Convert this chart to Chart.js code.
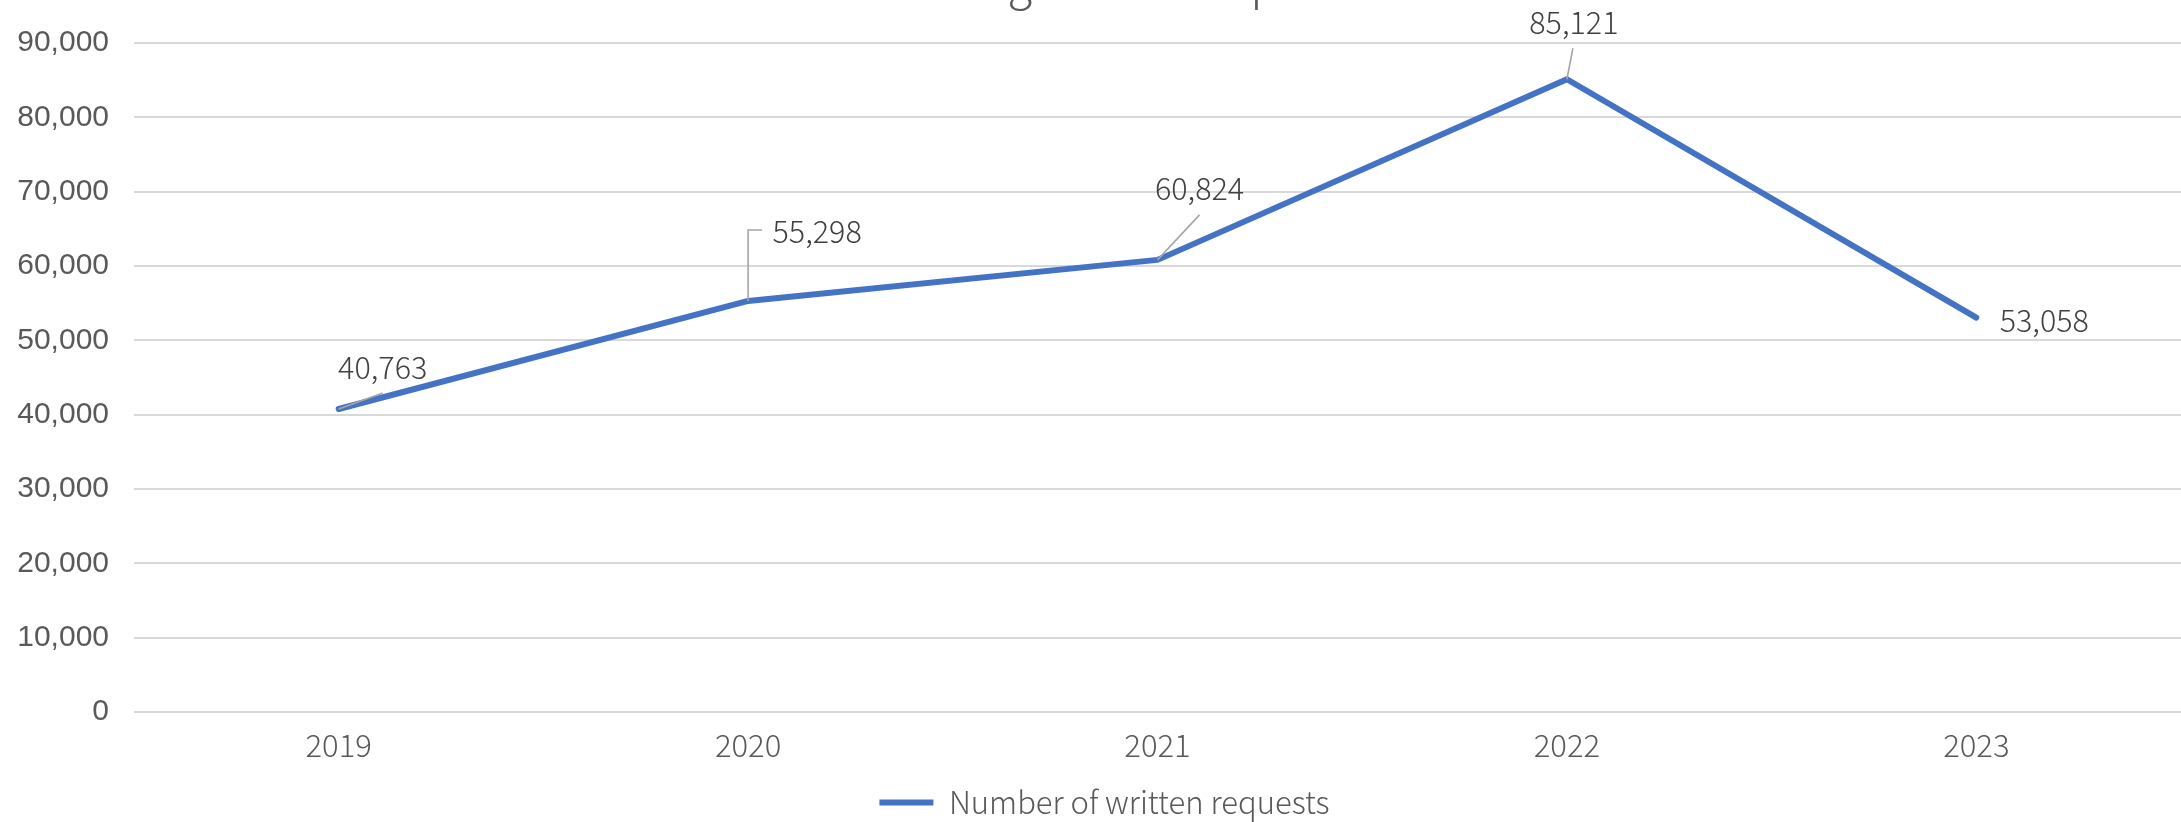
<!DOCTYPE html>
<html><head><meta charset="utf-8">
<script src="https://cdn.jsdelivr.net/npm/chart.js@4/dist/chart.umd.min.js"></script>
<style>html,body{margin:0;padding:0;background:#fff;overflow:hidden}#wrap{width:2181px;height:822px}</style>
</head><body><div id="wrap"><canvas id="c" width="2181" height="822"></canvas></div>
<script>
// ---- data ----
const categories = ['2019', '2020', '2021', '2022', '2023'];
const writtenRequests = [40763, 55298, 60824, 85121, 53058];
const yTickValues = [0, 10000, 20000, 30000, 40000, 50000, 60000, 70000, 80000, 90000];
const seriesName = 'Number of written requests';
const titleText = 'Processing written requests';

const FONT = '"Noto Sans CJK SC", "Noto Sans", sans-serif';
const TICK_FONT = '"Liberation Sans", Arial, sans-serif';
const fmt = v => Number(v).toLocaleString('en-US');

// label placement (style, in px relative to each point)
const labelPlacement = [
  {dx: 44, dy: -42, leader: [[44, -16]]},
  {dx: 69, dy: -70, leader: [[0, -71], [14, -71]]},
  {dx: 42, dy: -71, leader: [[42, -45]]},
  {dx: 7,  dy: -57, leader: [[6, -31]]},
  {dx: 68, dy: 3,   leader: null}
];

const dataLabelPlugin = {
  id: 'dataLabels',
  afterDatasetsDraw(chart) {
    const ctx = chart.ctx;
    const meta = chart.getDatasetMeta(0);
    ctx.save();
    meta.data.forEach((pt, i) => {
      const p = labelPlacement[i];
      if (p.leader) {
        ctx.beginPath();
        ctx.strokeStyle = '#a6a6a6';
        ctx.lineWidth = 1.6;
        ctx.moveTo(pt.x, pt.y);
        p.leader.forEach(([lx, ly]) => ctx.lineTo(pt.x + lx, pt.y + ly));
        ctx.stroke();
      }
      ctx.fillStyle = '#404040';
      ctx.font = '300 30.5px ' + FONT;
      ctx.textAlign = 'center';
      ctx.textBaseline = 'middle';
      ctx.fillText(fmt(writtenRequests[i]), pt.x + p.dx, pt.y + p.dy);
    });
    ctx.restore();
  }
};

const clippedTitlePlugin = {
  id: 'clippedTitle',
  afterLayout(chart) {
    // nudge legend to where the reference places it
    const lg = chart.legend;
    if (lg) { lg.left += 14; lg.right += 14; lg.top += 6; lg.bottom += 6; }
  },
  afterDraw(chart) {
    const ctx = chart.ctx;
    ctx.save();
    ctx.fillStyle = '#595959';
    ctx.font = '300 45px ' + FONT;
    ctx.textAlign = 'center';
    ctx.textBaseline = 'alphabetic';
    ctx.fillText(titleText, chart.width / 2, -1);
    ctx.restore();
  }
};

new Chart(document.getElementById('c'), {
  type: 'line',
  data: {
    labels: categories,
    datasets: [{
      label: seriesName,
      data: writtenRequests,
      borderColor: '#4472C4',
      backgroundColor: '#4472C4',
      borderWidth: 6,
      borderCapStyle: 'round',
      borderJoinStyle: 'round',
      pointRadius: 0,
      tension: 0,
      fill: false
    }]
  },
  options: {
    responsive: false,
    devicePixelRatio: 1,
    animation: false,
    layout: {padding: {top: 33, right: 0, left: 0, bottom: 0}},
    plugins: {
      title: {display: false},
      tooltip: {enabled: false},
      legend: {
        position: 'bottom',
        labels: {
          usePointStyle: true,
          pointStyle: 'line',
          pointStyleWidth: 54,
          padding: 0,
          color: '#595959',
          font: {family: FONT, size: 31, weight: 300}
        }
      }
    },
    scales: {
      x: {
        offset: true,
        grid: {display: false},
        border: {display: false},
        ticks: {color: '#595959', font: {family: FONT, size: 31, weight: 300}, padding: 7},
        afterFit(s) { s.height = 69; }
      },
      y: {
        min: 0, max: 90000,
        afterBuildTicks(s) { s.ticks = yTickValues.map(v => ({value: v})); },
        grid: {color: '#d9d9d9', lineWidth: 2, drawTicks: false},
        border: {display: false},
        ticks: {color: '#595959', font: {family: TICK_FONT, size: 30}, padding: 25, callback: v => fmt(v)},
        afterFit(s) { s.width = 134; }
      }
    }
  },
  plugins: [dataLabelPlugin, clippedTitlePlugin]
});
</script>
</body></html>
